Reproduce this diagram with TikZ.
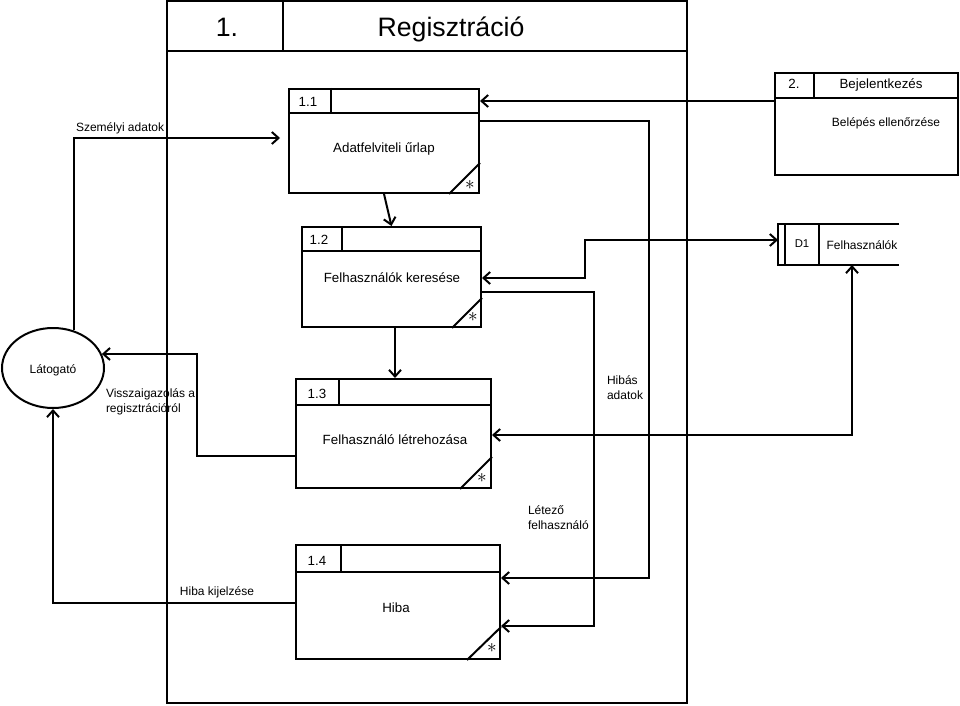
\documentclass[tikz,border=0pt]{standalone}
\usepackage{fontspec}
\setmainfont{Liberation Sans}
\usetikzlibrary{arrows.meta,shapes.geometric}
\begin{document}
\begin{tikzpicture}[x=0.75pt,y=-0.75pt,line width=1.5pt,
  box/.style={draw,rectangle,inner sep=0pt},
  ttl/.style={font=\fontsize{20}{24}\selectfont,inner sep=0pt},
  btxt/.style={font=\fontsize{10}{12}\selectfont,inner sep=0pt},
  lbl/.style={font=\fontsize{9}{11}\selectfont,inner sep=0pt},
  num/.style={font=\fontsize{10}{12}\selectfont,inner sep=0pt},
  star/.style={inner sep=0pt,font=\fontsize{14}{16}\selectfont},
  ar/.style={-{Straight Barb[length=5pt,width=9pt]}},
  ar2/.style={{Straight Barb[length=5pt,width=9pt]}-{Straight Barb[length=5pt,width=9pt]}}
]
\useasboundingbox (0,0) rectangle (960,706);

% main frame
\node[box, minimum width=390pt, minimum height=526.5pt] (frame) at (427,352) {};
\draw (frame.west |- 0,51) -- (frame.east |- 0,51);
\draw (frame.north -| 283,0) -- (283,51);
\node[ttl, anchor=base] (t1) at (227,37) {1.};
\node[ttl, anchor=base] (t2) at (451,37) {Regisztráció};

% Latogato
\node[draw, ellipse, minimum width=76.5pt, minimum height=60pt, inner sep=0pt] (lat) at (53,368) {};
\node[lbl, anchor=base] (latt) at (53,373) {Látogató};

% 1.1
\node[box, minimum width=142.5pt, minimum height=78pt] (p11) at (384,141) {};
\draw (p11.west |- 0,113) -- (p11.east |- 0,113);
\draw (p11.north -| 331,0) -- (331,113);
\node[num, anchor=base] (n11) at (308,107) {1.1};
\node[btxt, anchor=base] (t11) at (384,153) {Adatfelviteli űrlap};
\draw (p11.south -| 449,0) -- (p11.east |- 0,163);
\node[star] (s11) at (470,185) {$\ast$};

% 1.2
\node[box, minimum width=134.25pt, minimum height=75pt] (p12) at (391.5,277) {};
\draw (p12.west |- 0,251) -- (p12.east |- 0,251);
\draw (p12.north -| 342,0) -- (342,251);
\node[num, anchor=base] (n12) at (319,244) {1.2};
\node[btxt, anchor=base] (t12) at (392,282) {Felhasználók keresése};
\draw (p12.south -| 452,0) -- (p12.east |- 0,298);
\node[star] (s12) at (473,317) {$\ast$};

% 1.3
\node[box, minimum width=146.25pt, minimum height=81.75pt] (p13) at (393.5,433.5) {};
\draw (p13.west |- 0,405) -- (p13.east |- 0,405);
\draw (p13.north -| 339,0) -- (339,405);
\node[num, anchor=base] (n13) at (317,398) {1.3};
\node[btxt, anchor=base] (t13) at (395,444) {Felhasználó létrehozása};
\draw (p13.south -| 460,0) -- (p13.east |- 0,457);
\node[star] (s13) at (482,478) {$\ast$};

% 1.4
\node[box, minimum width=153pt, minimum height=85.5pt] (p14) at (398,602) {};
\draw (p14.west |- 0,572) -- (p14.east |- 0,572);
\draw (p14.north -| 341,0) -- (341,572);
\node[num, anchor=base] (n14) at (317,565) {1.4};
\node[btxt, anchor=base] (t14) at (396,612) {Hiba};
\draw (p14.south -| 467,0) -- (p14.east |- 0,627);
\node[star] (s14) at (492,648) {$\ast$};

% 2. Bejelentkezes
\node[box, minimum width=137.25pt, minimum height=76.5pt] (b2) at (866.5,124) {};
\draw (b2.west |- 0,98) -- (b2.east |- 0,98);
\draw (b2.north -| 814,0) -- (814,98);
\node[btxt, anchor=base] (n2) at (794,89) {2.};
\node[btxt, anchor=base] (tb2) at (881,89) {Bejelentkezés};
\node[lbl, anchor=base] (tb2b) at (886,127) {Belépés ellenőrzése};

% D1 data store
\node[minimum width=89.25pt, minimum height=29.25pt, inner sep=0pt] (d1) at (838.5,244.5) {};
\draw (d1.north east) -- (d1.north west) -- (d1.south west) -- (d1.south east);
\draw (d1.north -| 785,0) -- (d1.south -| 785,0);
\draw (d1.north -| 819,0) -- (d1.south -| 819,0);
\node[font=\fontsize{8.5}{10}\selectfont, inner sep=0pt, anchor=base] (nd1) at (802,247) {D1};
\node[lbl, anchor=base] (td1) at (862,249) {Felhasználók};

% connectors
\draw[ar, shorten >=6pt] (lat.61) |- (p11.west |- 0,138);
\node[lbl, anchor=base west] (l1) at (75,132) {Személyi adatok};

\draw[ar] (b2.west |- 0,101) -- (p11.east |- 0,101);

\draw[ar] (p11.east |- 0,121) -- (649,121) |- (p14.east |- 0,578);
\node[lbl, anchor=base west] (l2a) at (606,384) {Hibás};
\node[lbl, anchor=base west] (l2b) at (606,399) {adatok};

\draw[ar] (p11.south) -- (p12.north);

\draw[ar2] (p12.east |- 0,278) -| (585,240) -- (d1.west |- 0,240);

\draw[ar] (p12.east |- 0,292) -- (594,292) |- (p14.east |- 0,626);
\node[lbl, anchor=base west] (l3a) at (527,514) {Létező};
\node[lbl, anchor=base west] (l3b) at (527,529) {felhasználó};

\draw[ar] (p12.south -| 395,0) -- (p13.north -| 395,0);

\draw[ar] (p13.west |- 0,456) -- (197,456) |- (lat.16);
\node[lbl, anchor=base west] (l4a) at (105,397) {Visszaigazolás a};
\node[lbl, anchor=base west] (l4b) at (105,412) {regisztrációról};

\draw[ar2] (p13.east |- 0,435) -| (d1.south -| 852,0);

\draw[ar] (p14.west |- 0,603) -| (lat.south);
\node[lbl, anchor=base] (l5) at (217,595) {Hiba kijelzése};
\end{tikzpicture}
\end{document}
